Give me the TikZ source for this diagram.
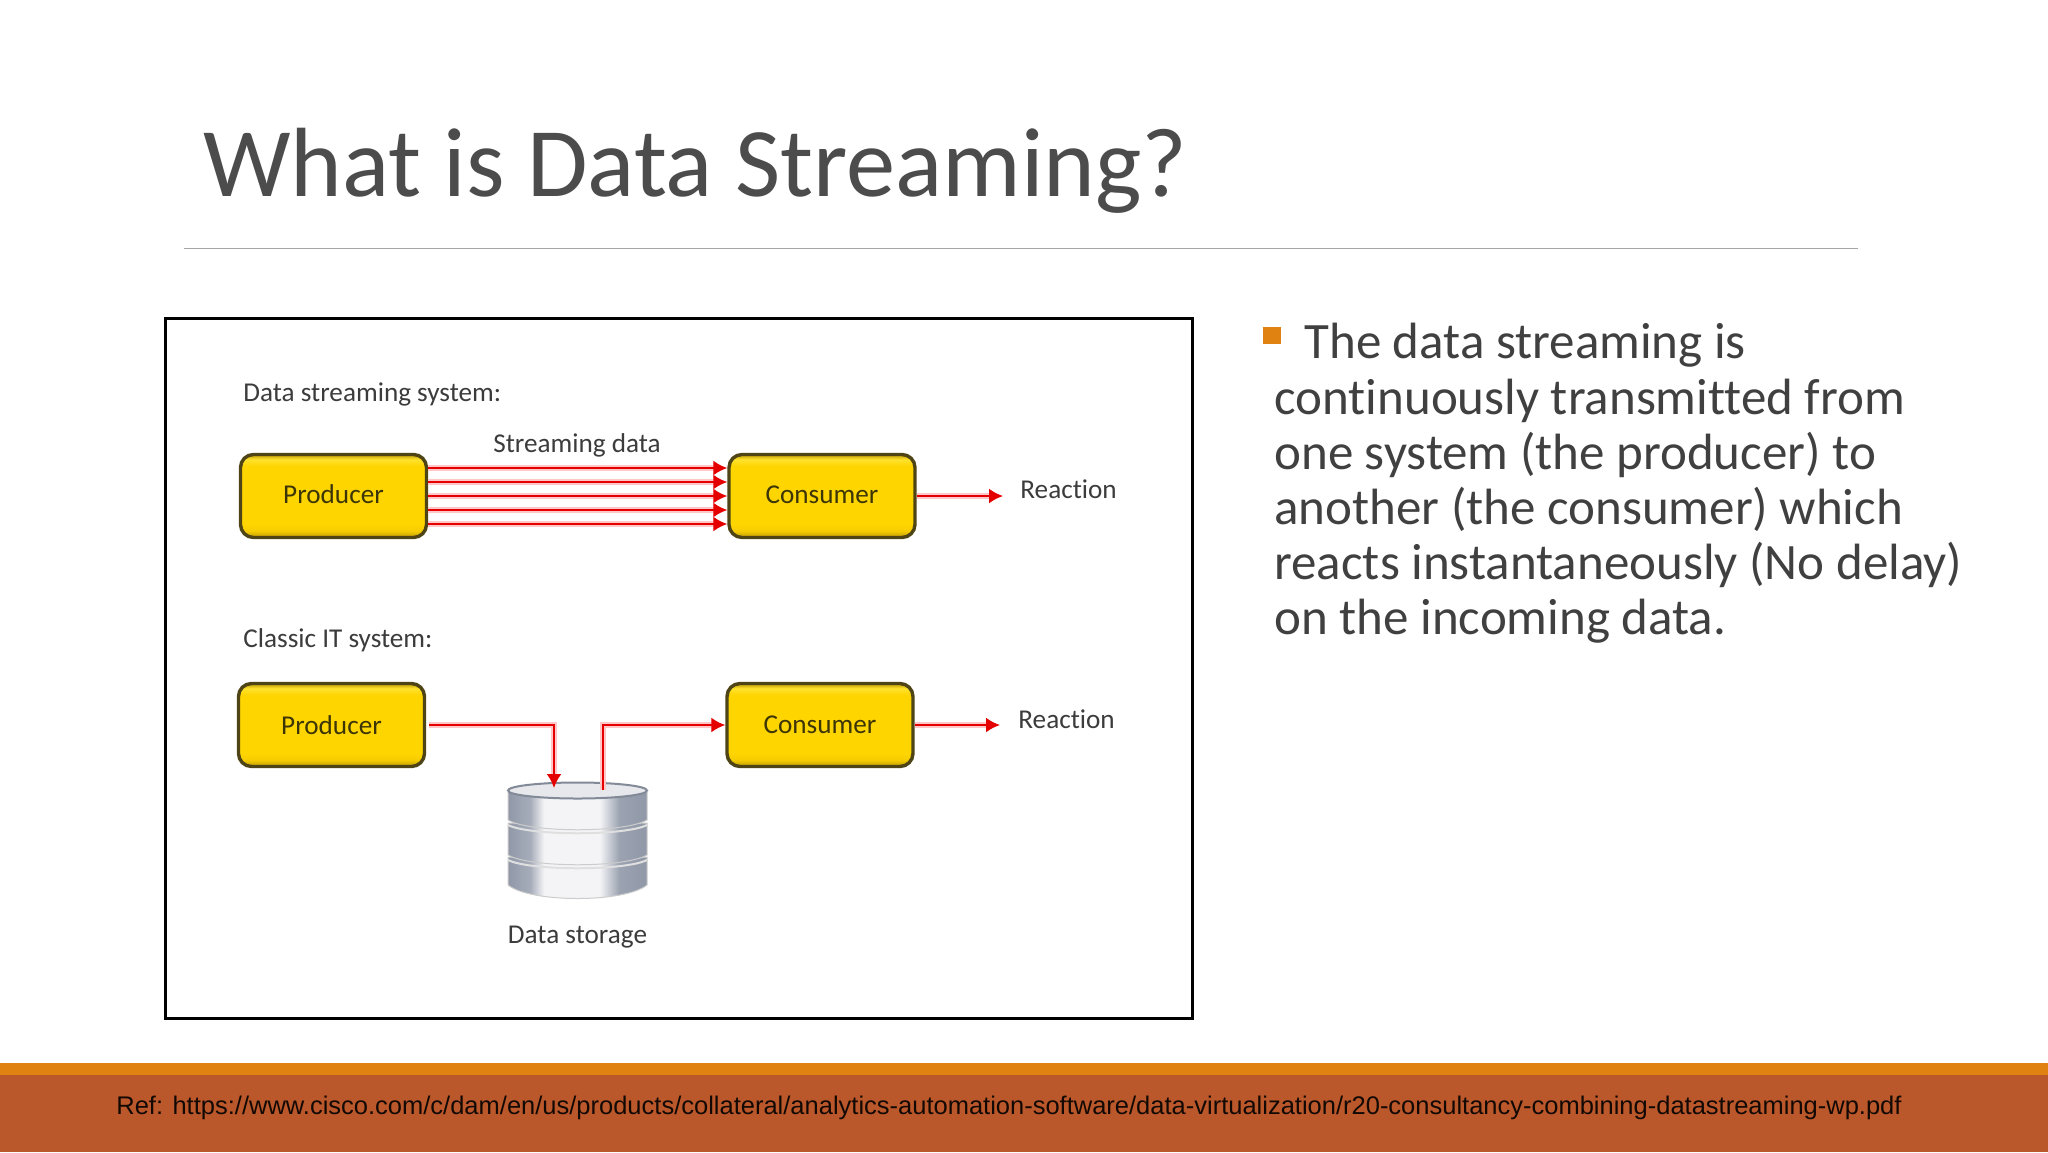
\documentclass[tikz,border=0pt]{standalone}
\usepackage{fontspec}
\setmainfont{Carlito}[Ligatures=CommonOff]
\newfontfamily\liberation{Liberation Sans}
\usetikzlibrary{arrows.meta,calc}
\definecolor{slidegrey}{HTML}{404040}
\definecolor{titlegrey}{HTML}{4C4C4C}
\definecolor{stripe}{HTML}{E08212}
\definecolor{footer}{HTML}{BB582B}
\definecolor{rulegrey}{HTML}{A6A6A6}
\definecolor{labelgrey}{HTML}{3C3C3C}
\definecolor{boxedge}{HTML}{4E4416}
\definecolor{boxtext}{HTML}{3C3506}
\definecolor{cyla}{HTML}{9098A8}
\definecolor{cylb}{HTML}{F4F4F6}
\definecolor{ybot}{HTML}{BF9A00}
\definecolor{ymid}{HTML}{FFD500}
\definecolor{ytop}{HTML}{FFE22E}
\pgfdeclarehorizontalshading{cylsh}{100bp}{
  color(0bp)=(cyla); color(25bp)=(cyla); color(33bp)=(cyla!80!white);
  color(38bp)=(cylb); color(58bp)=(cylb); color(65bp)=(cyla!90!white);
  color(75bp)=(cyla); color(100bp)=(cyla)}
\pgfdeclareverticalshading{boxsh}{100bp}{
  color(0bp)=(ybot); color(25bp)=(ybot); color(29bp)=(ymid!85!ybot); color(33bp)=(ymid);
  color(68bp)=(ymid); color(72bp)=(ytop); color(75bp)=(ybot); color(100bp)=(ybot)}
\tikzset{
  yellowbox/.style={rectangle,rounded corners=6.5pt,draw=boxedge,line width=1.7pt,
    minimum width=93pt,minimum height=41.5pt,inner sep=0pt,shading=boxsh,
    text=boxtext,font=\fontsize{13.6}{16}\selectfont},
  diagramlabel/.style={inner sep=0pt,text=labelgrey,font=\fontsize{13.6}{16}\selectfont},
  redline/.style={draw=red!90!black,line width=1.3pt,
    preaction={draw=red!22,line width=3pt}},
  redarrow/.style={redline,-{Latex[length=7pt,width=7.5pt]}},
  bodytext/.style={inner sep=0pt,text=slidegrey,font=\fontsize{25.5}{27.6}\selectfont,align=left},
}
\begin{document}
\begin{tikzpicture}[x=0.5pt,y=-0.5pt]
\useasboundingbox (0,0) rectangle (2048,1152);
\fill[white] (0,0) rectangle (2048,1152);

% Title and rule
\node[anchor=base west,inner sep=0pt,text=titlegrey,font=\fontsize{49.2}{52}\selectfont] (title) at (203,196) {What is Data Streaming?};
\coordinate (ruleL) at (184,248.5);
\coordinate (ruleR) at (1858,248.5);
\draw[rulegrey,line width=0.7pt] (ruleL) -- (ruleR);

% Picture frame
\node[draw=black,fill=white,line width=1.5pt,minimum width=513.5pt,minimum height=350pt,inner sep=0pt] (frame) at (679,668) {};

% Top system
\node[diagramlabel,anchor=west] (lab1) at (243,394) {Data streaming system:};
\node[diagramlabel] (lab2) at (577,445) {Streaming data};
\node[yellowbox,text depth=0pt] (prod1) at (333.5,496) {\raisebox{1.5pt}{Producer}};
\node[yellowbox,text depth=0pt] (cons1) at (822,496) {\raisebox{1pt}{Consumer}};
\node[diagramlabel,anchor=west] (react1) at (1020,489) {Reaction};
\coordinate (tip1) at (1003,496);
\foreach \dy in {-28,-14,0,14,28}{
  \draw[redarrow] ($(prod1.east)+(0,\dy)$) -- ($(cons1.west)+(0,\dy)$);
}
\draw[redarrow] (cons1.east) -- (tip1);

% Bottom system
\node[diagramlabel,anchor=west] (lab3) at (243,640) {Classic IT system:};
\node[yellowbox] (prod2) at (331.5,725) {Producer};
\node[yellowbox] (cons2) at (820,725) {Consumer};
\node[diagramlabel,anchor=west] (react2) at (1018,719) {Reaction};
\coordinate (tip2) at (1000,725);

% Data storage cylinder
\foreach \top/\side/\low in {857/885/899, 823/855/864, 792/820/829}{
  \draw[shading=cylsh,draw=gray!40,line width=0.5pt]
    (508,\top) -- (508,\side) .. controls (530,{\low+4}) and (625,{\low+4}) .. (647,\side) -- (647,\top) -- cycle;
}
\draw[white!75!gray,line width=1pt] (508,825) .. controls (530,836) and (625,836) .. (647,825);
\draw[white!75!gray,line width=1pt] (508,860) .. controls (530,871) and (625,871) .. (647,860);
\draw[fill=cyla!22!white,draw=cyla!90!black,line width=1pt] (577.5,790.5) ellipse [x radius=69.5,y radius=8];
\node[inner sep=0pt,minimum width=69.5pt,minimum height=58pt] (store) at (577.5,841.5) {};
\node[diagramlabel] (lab4) at (577.5,937) {Data storage};
\coordinate (inTip) at (554,788);
\coordinate (outBase) at (603,790);
\draw[redarrow] ([xshift=1.5pt]prod2.east) -| (inTip);
\draw[redarrow] (outBase) |- (cons2.west);
\draw[redarrow] (cons2.east) -- (tip2);

% Bullet text
\node[fill=stripe,inner sep=0pt,minimum width=9pt,minimum height=8.5pt] (bullet) at (1272,335.5) {};
\node[bodytext,anchor=north west] (body) at (1274,323) {\hspace*{15pt}The data streaming is\\
continuously transmitted from\\
one system (the producer) to\\
another (the consumer) which\\
reacts instantaneously (No delay)\\
on the incoming data.};

% Footer
\fill[stripe] (0,1063) rectangle (2048,1075);
\fill[footer] (0,1075) rectangle (2048,1152);
\node[inner sep=0pt,text=black!90!footer,font=\liberation\fontsize{12.75}{16}\selectfont] (ref) at (1009,1107.5)
 {Ref: https://www.cisco.com/c/dam/en/us/products/collateral/analytics-automation-software/data-virtualization/r20-consultancy-combining-datastreaming-wp.pdf};
\end{tikzpicture}
\end{document}
